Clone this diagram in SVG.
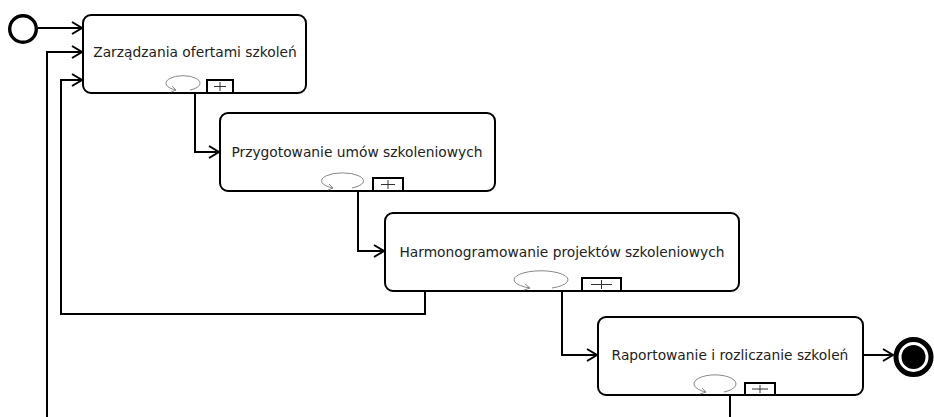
<svg xmlns="http://www.w3.org/2000/svg" width="934" height="417" viewBox="0 0 934 417">
<style>
.box{fill:#fff;stroke:#000;stroke-width:2}
.lbl{font-family:"DejaVu Sans",sans-serif;font-size:13.8px;fill:#222;text-anchor:middle}
.loop{fill:none;stroke:#888;stroke-width:1}
.sub{fill:#fff;stroke:#000;stroke-width:2}
.subp{stroke:#333;stroke-width:1}
.conn{fill:none;stroke:#000;stroke-width:2}
</style>
<defs>
<marker id="arr" markerWidth="14" markerHeight="14" refX="11" refY="7" orient="auto" markerUnits="userSpaceOnUse">
<path d="M1,1 L11,7 L1,13" fill="none" stroke="#000" stroke-width="2"/>
</marker>
</defs>
<g id="connectors">
<path class="conn" d="M38,28 H82" marker-end="url(#arr)"/>
<path class="conn" d="M47,417 V52 H82" marker-end="url(#arr)"/>
<path class="conn" d="M425,291 V314 H61 V80 H82" marker-end="url(#arr)"/>
<path class="conn" d="M195,93 V152 H219" marker-end="url(#arr)"/>
<path class="conn" d="M358,191 V251 H384" marker-end="url(#arr)"/>
<path class="conn" d="M562,291 V355 H597" marker-end="url(#arr)"/>
<path class="conn" d="M863,355 H893" marker-end="url(#arr)"/>
<path class="conn" d="M730,395 V417"/>
</g>
<g id="start">
<circle cx="23" cy="29" r="13.3" fill="#fff" stroke="#000" stroke-width="3.4"/>
</g>
<g id="task1">
<rect class="box" x="83" y="15" width="223" height="78" rx="8"/>
<text class="lbl" x="195" y="57">Zarządzania ofertami szkoleń</text>
<path class="loop" d="M176,90 A17,7.5 0 1 1 190,90"/>
<path class="loop" d="M172,86 L176,90 L171,92"/>
<rect class="sub" x="207" y="80" width="26" height="13"/>
<path class="subp" d="M214,86.5 H226 M220,82 V91"/>
</g>
<g id="task2">
<rect class="box" x="220" y="113" width="275" height="78" rx="8"/>
<text class="lbl" x="357" y="157">Przygotowanie umów szkoleniowych</text>
<path class="loop" d="M333,188 A21,8 0 1 1 352,188"/>
<path class="loop" d="M329,184 L333,188 L328,190"/>
<rect class="sub" x="373" y="178" width="30" height="13"/>
<path class="subp" d="M381,184.5 H395 M388,180 V189"/>
</g>
<g id="task3">
<rect class="box" x="385" y="213" width="354" height="78" rx="8"/>
<text class="lbl" x="562" y="257">Harmonogramowanie projektów szkoleniowych</text>
<path class="loop" d="M530,288 A27,9 0 1 1 552,288"/>
<path class="loop" d="M525,284 L530,288 L524,290"/>
<rect class="sub" x="582" y="278" width="39" height="13"/>
<path class="subp" d="M591,284.5 H612 M601.5,280 V289"/>
</g>
<g id="task4">
<rect class="box" x="598" y="317" width="265" height="78" rx="8"/>
<text class="lbl" x="730" y="360">Raportowanie i rozliczanie szkoleń</text>
<path class="loop" d="M706,392 A21,9 0 1 1 724,392"/>
<path class="loop" d="M702,388 L706,392 L700,394"/>
<rect class="sub" x="745" y="383" width="30" height="12"/>
<path class="subp" d="M752,389 H768 M760,385 V393"/>
</g>
<g id="end">
<circle cx="913.5" cy="357" r="17.5" fill="#fff" stroke="#000" stroke-width="5"/>
<circle cx="913.5" cy="357" r="12" fill="#000"/>
</g>
</svg>
